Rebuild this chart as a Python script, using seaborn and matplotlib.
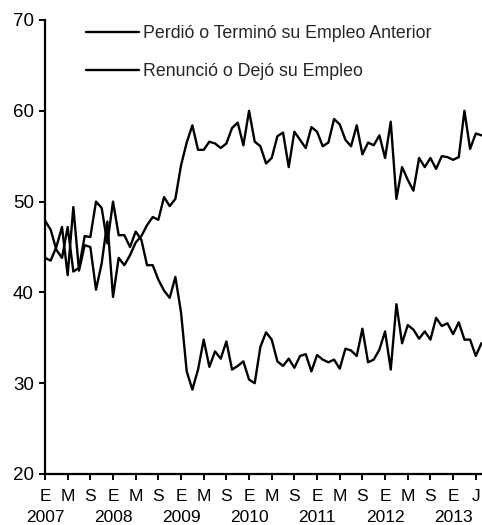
import numpy as np
import pandas as pd
import matplotlib
matplotlib.use("Agg")
import matplotlib.pyplot as plt
import seaborn as sns

# Monthly share (%) of unemployed by reason, Jan 2007 - Jun 2013
perdio = [43.8, 43.5, 45.0, 47.2, 41.9, 49.4, 42.4, 45.2, 45.0, 40.3, 43.2, 47.8,
          39.5, 43.8, 43.0, 44.1, 45.5, 46.2, 47.4, 48.3, 48.0, 50.5, 49.5, 50.3,
          54.0, 56.5, 58.4, 55.7, 55.7, 56.6, 56.4, 55.9, 56.4, 58.1, 58.7, 56.2,
          60.0, 56.6, 56.1, 54.2, 54.8, 57.2, 57.6, 53.8, 57.7, 56.8, 55.9, 58.2,
          57.7, 56.1, 56.5, 59.1, 58.5, 56.8, 56.1, 58.4, 55.2, 56.5, 56.2, 57.3,
          54.8, 58.8, 50.3, 53.8, 52.4, 51.2, 54.8, 53.8, 54.8, 53.6, 55.0, 54.9,
          54.6, 54.9, 60.0, 55.8, 57.5, 57.3]
renuncio = [47.9, 46.9, 44.7, 43.8, 47.2, 42.3, 42.7, 46.2, 46.1, 50.0, 49.3, 45.4,
            50.0, 46.3, 46.3, 45.0, 46.7, 45.8, 43.0, 43.0, 41.4, 40.2, 39.4, 41.7,
            37.8, 31.3, 29.3, 31.5, 34.8, 31.8, 33.5, 32.7, 34.6, 31.5, 31.9, 32.4,
            30.4, 30.0, 34.0, 35.6, 34.8, 32.4, 31.9, 32.7, 31.7, 33.0, 33.2, 31.3,
            33.1, 32.6, 32.3, 32.6, 31.6, 33.8, 33.6, 33.0, 36.0, 32.3, 32.6, 33.7,
            35.7, 31.5, 38.7, 34.4, 36.4, 35.9, 34.9, 35.7, 34.8, 37.2, 36.3, 36.6,
            35.4, 36.7, 34.8, 34.8, 33.0, 34.4]

series_names = ["Perdió o Terminó su Empleo Anterior", "Renunció o Dejó su Empleo"]
month_letters = ["E", "M", "S"]
years = ["2007", "2008", "2009", "2010", "2011", "2012", "2013"]
last_label = "J"
y_ticks = [20, 30, 40, 50, 60, 70]

n = len(perdio)
months = np.arange(n)
df = pd.DataFrame({
    "mes": np.concatenate([months, months]),
    "porcentaje": perdio + renuncio,
    "serie": [series_names[0]] * n + [series_names[1]] * n,
})

sns.set_theme(style="ticks")
plt.rcParams["font.family"] = ["Liberation Sans", "DejaVu Sans"]

W, H = 482, 525
fig = plt.figure(figsize=(W / 100, H / 100), dpi=100)
ax = fig.add_axes([45 / W, 1 - 474 / H, 1 - 45 / W, (474 - 20) / H])

sns.lineplot(data=df, x="mes", y="porcentaje", hue="serie",
             palette={series_names[0]: "black", series_names[1]: "black"},
             linewidth=1.7, ax=ax)

ax.set_xlim(0, 77.1)
ax.set_ylim(20, 70)
ax.set_yticks(y_ticks)
ax.set_yticklabels([str(v) for v in y_ticks], fontsize=13.5)

# tick every four months: Jan (E), May (M), Sep (S); last tick labelled J
tick_pos = list(range(0, 76, 4)) + [76]
tick_lab = [month_letters[k % 3] for k in range(len(tick_pos) - 1)] + [last_label]
ax.set_xticks(tick_pos)
ax.set_xticklabels(tick_lab, fontsize=12.5)

# year row beneath each January
xform = ax.get_xaxis_transform()
for k, yr in enumerate(years):
    ax.text(12 * k, -44 / 454, yr, transform=xform, ha="center", va="center",
            fontsize=12.5, color="black")

ax.set_xlabel("")
ax.set_ylabel("")
for side in ["top", "right"]:
    ax.spines[side].set_visible(False)
for side in ["left", "bottom"]:
    ax.spines[side].set_linewidth(1.6)
    ax.spines[side].set_color("black")
ax.tick_params(axis="both", direction="out", length=4, width=1.4, colors="black",
               labelcolor="black")
ax.tick_params(axis="x", pad=7)
ax.tick_params(axis="y", pad=4)

leg = ax.legend(loc="upper left", bbox_to_anchor=(86 / W, 1 - 25 / H),
                bbox_transform=fig.transFigure, frameon=False, fontsize=12.8,
                handlelength=3.0, handletextpad=0.2, labelspacing=1.2,
                borderaxespad=0, borderpad=0)
for line in leg.get_lines():
    line.set_linewidth(1.7)

fig.savefig("out.png", dpi=100, facecolor="white")
